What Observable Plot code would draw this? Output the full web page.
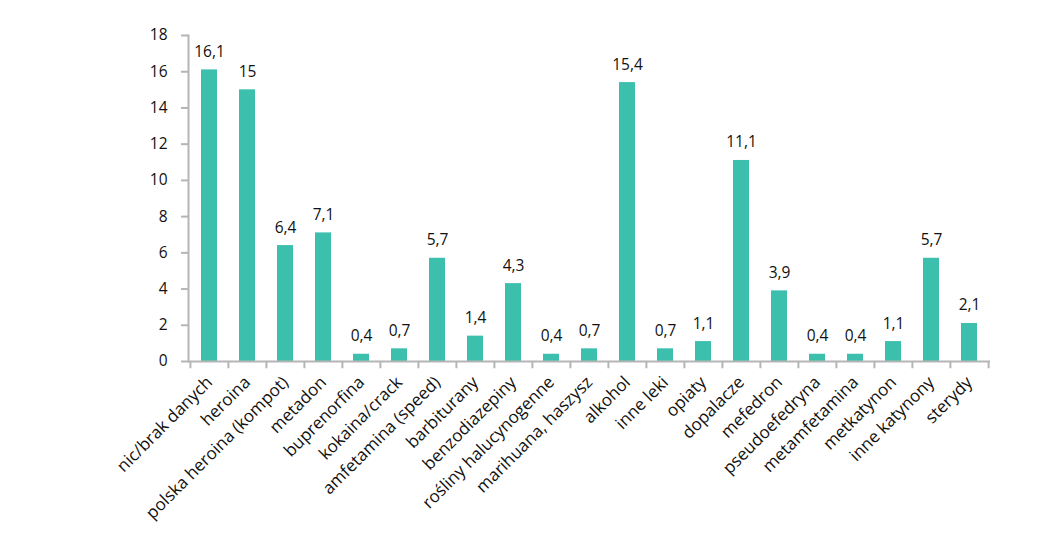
<!DOCTYPE html>
<html>
<head>
<meta charset="utf-8">
<script src="https://cdn.jsdelivr.net/npm/d3@7"></script>
<script src="https://cdn.jsdelivr.net/npm/@observablehq/plot@0.6"></script>
<style>
  html, body { margin: 0; padding: 0; background: #fff; }
  #chart svg { font-family: "Open Sans", sans-serif; }
</style>
</head>
<body>
<div id="chart"></div>
<script>
const categories = [
  "nic/brak danych", "heroina", "polska heroina (kompot)", "metadon", "buprenorfina",
  "kokaina/crack", "amfetamina (speed)", "barbiturany", "benzodiazepiny",
  "rośliny halucynogenne", "marihuana, haszysz", "alkohol", "inne leki", "opiaty",
  "dopalacze", "mefedron", "pseudoefedryna", "metamfetamina", "metkatynon",
  "inne katynony", "sterydy"
];
const values = [16.1, 15, 6.4, 7.1, 0.4, 0.7, 5.7, 1.4, 4.3, 0.4, 0.7, 15.4, 0.7, 1.1, 11.1, 3.9, 0.4, 0.4, 1.1, 5.7, 2.1];
const yTicks = [0, 2, 4, 6, 8, 10, 12, 14, 16, 18];

const data = categories.map((c, i) => ({category: c, value: values[i]}));
const fmt = v => String(v).replace(".", ",");

const width = 1043, height = 557;
const ml = 188, mr = 53, mt = 35, mb = 196;
const step = (width - ml - mr) / categories.length;
const axisColor = "#b5b5b5";

const chart = Plot.plot({
  width, height,
  marginLeft: ml, marginRight: mr, marginTop: mt, marginBottom: mb,
  style: {fontSize: "15px", fontFamily: "'Open Sans', sans-serif", color: "#111", background: "#fff"},
  x: {domain: categories, paddingInner: 0.58, paddingOuter: 0.29, label: null},
  y: {domain: [0, 18], ticks: yTicks, label: null},
  marks: [
    Plot.barY(data, {x: "category", y: "value", fill: "#3cbfad"}),
    Plot.text(data, {x: "category", y: "value", text: d => fmt(d.value), dy: -18, fill: "#111", fontSize: 15.5}),
    Plot.ruleY([0], {stroke: axisColor, strokeWidth: 2}),
    Plot.frame({anchor: "left", stroke: axisColor, strokeWidth: 2}),
    Plot.ruleX(categories, {x: d => d, dx: -step / 2, y1: 0, y2: -0.4, stroke: axisColor, strokeWidth: 2}),
    Plot.ruleX([categories[categories.length - 1]], {x: d => d, dx: step / 2, y1: 0, y2: -0.4, stroke: axisColor, strokeWidth: 2}),
    Plot.axisY({ticks: yTicks, tickSize: 7, tickPadding: 14, stroke: axisColor, strokeWidth: 2, tickFormat: d => String(d), fill: "#111", fontSize: 15.5}),
    Plot.axisX({tickSize: 0, tickPadding: 18, tickRotate: -45, fill: "#111", fontSize: 17})
  ]
});
document.getElementById("chart").appendChild(chart);
</script>
</body>
</html>
